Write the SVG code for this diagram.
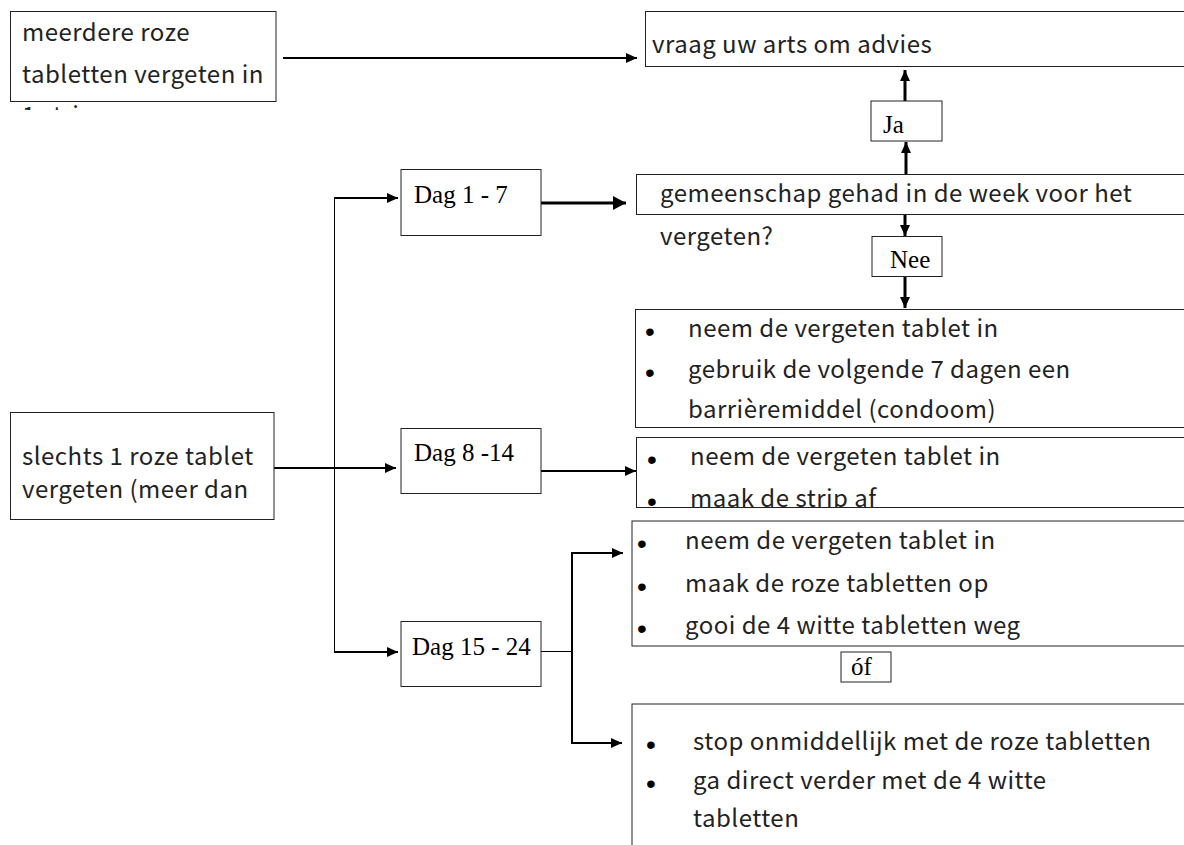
<svg xmlns="http://www.w3.org/2000/svg" width="1184" height="845" viewBox="0 0 1184 845">
<style>
.box{fill:#fff;stroke:#222;stroke-width:1}
.t{font-family:"Noto Sans CJK JP","Noto Sans",sans-serif;font-size:24px;letter-spacing:0.5px;fill:#222}
.s{font-family:"Liberation Serif",serif;font-size:25px;fill:#000}
.b{font-family:"Liberation Sans",sans-serif;font-size:28px;fill:#000}
.c{stroke:#000;stroke-width:2;fill:none}
.k{stroke:#000;stroke-width:3;fill:none}
.thin{stroke:#000;stroke-width:1;fill:none}
</style>
<defs>
<marker id="ah" markerUnits="userSpaceOnUse" markerWidth="12" markerHeight="10" refX="11" refY="5" orient="auto"><path d="M0,0 L11,5 L0,10 z" fill="#000"/></marker>
<marker id="ahb" markerUnits="userSpaceOnUse" markerWidth="14" markerHeight="14" refX="13" refY="7" orient="auto"><path d="M0,0 L13,7 L0,14 z" fill="#000"/></marker>
<clipPath id="clipA"><rect x="0" y="0" width="300" height="110"/></clipPath>
<clipPath id="clipD"><rect x="636" y="437" width="600" height="71"/></clipPath>
</defs>

<g id="connectors">
<line class="c" x1="283" y1="58" x2="637" y2="58" marker-end="url(#ah)"/>
<line class="k" x1="905" y1="101" x2="905" y2="70" marker-end="url(#ah)"/>
<line class="k" x1="906" y1="174" x2="906" y2="142" marker-end="url(#ah)"/>
<line class="k" x1="905" y1="214" x2="905" y2="236" marker-end="url(#ah)"/>
<line class="k" x1="905" y1="277" x2="905" y2="308" marker-end="url(#ah)"/>
<line class="c" x1="274" y1="468" x2="396" y2="468" marker-end="url(#ah)"/>
<line class="thin" x1="334.5" y1="198" x2="334.5" y2="652"/>
<line class="c" x1="334" y1="198" x2="398" y2="198" marker-end="url(#ah)"/>
<line class="c" x1="334" y1="652" x2="398" y2="652" marker-end="url(#ah)"/>
<line class="k" x1="541" y1="203" x2="626" y2="203" stroke-width="4" marker-end="url(#ahb)"/>
<line class="c" x1="541" y1="471" x2="636" y2="471" marker-end="url(#ah)"/>
<line class="thin" x1="541" y1="651.5" x2="572" y2="651.5"/>
<line class="c" x1="572" y1="552" x2="572" y2="743"/>
<line class="c" x1="571" y1="553" x2="623" y2="553" marker-end="url(#ah)"/>
<line class="c" x1="571" y1="743" x2="622" y2="743" marker-end="url(#ah)"/>
</g>

<g id="node-meerdere">
<rect class="box" x="10.5" y="11.5" width="265.5" height="90"/>
<text class="t" x="22" y="41">meerdere roze</text>
<text class="t" x="22" y="83">tabletten vergeten in</text>
<text class="t" x="22" y="124" clip-path="url(#clipA)">1 strip</text>
</g>

<g id="node-advies">
<rect class="box" x="645.5" y="11.5" width="560" height="55"/>
<text class="t" x="652" y="53">vraag uw arts om advies</text>
</g>

<g id="node-ja">
<rect class="box" x="871" y="101" width="71" height="40"/>
<text class="s" x="883" y="133">Ja</text>
</g>

<g id="node-gemeenschap">
<rect class="box" x="636.5" y="174.5" width="560" height="40"/>
<text class="t" x="660" y="202">gemeenschap gehad in de week voor het</text>
<text class="t" x="660" y="245">vergeten?</text>
</g>

<g id="node-nee">
<rect class="box" x="872" y="236.5" width="70" height="40"/>
<text class="s" x="890" y="268">Nee</text>
</g>

<g id="node-barriere">
<rect class="box" x="635.5" y="309.5" width="560" height="118"/>
<text class="b" x="645" y="341">•</text>
<text class="t" x="688" y="337">neem de vergeten tablet in</text>
<text class="b" x="645" y="382">•</text>
<text class="t" x="688" y="378">gebruik de volgende 7 dagen een</text>
<text class="t" x="688" y="418">barrièremiddel (condoom)</text>
</g>

<g id="node-strip">
<rect class="box" x="636.5" y="437.5" width="560" height="70"/>
<text class="b" x="647" y="469">•</text>
<text class="t" x="690" y="465">neem de vergeten tablet in</text>
<g clip-path="url(#clipD)">
<text class="b" x="647" y="511">•</text>
<text class="t" x="690" y="507">maak de strip af</text>
</g>
</g>

<g id="node-opmaken">
<rect class="box" x="632" y="521" width="560" height="125"/>
<text class="b" x="637" y="553">•</text>
<text class="t" x="685" y="549">neem de vergeten tablet in</text>
<text class="b" x="637" y="596">•</text>
<text class="t" x="685" y="592">maak de roze tabletten op</text>
<text class="b" x="637" y="638">•</text>
<text class="t" x="685" y="634">gooi de 4 witte tabletten weg</text>
</g>

<g id="node-of">
<rect class="box" x="841" y="652" width="50" height="30"/>
<text class="s" x="851" y="675">óf</text>
</g>

<g id="node-stop">
<rect class="box" x="632" y="704" width="560" height="200"/>
<text class="b" x="646" y="754">•</text>
<text class="t" x="693" y="750">stop onmiddellijk met de roze tabletten</text>
<text class="b" x="646" y="793">•</text>
<text class="t" x="693" y="789">ga direct verder met de 4 witte</text>
<text class="t" x="693" y="827">tabletten</text>
</g>

<g id="node-slechts">
<rect class="box" x="10.5" y="412.5" width="263.5" height="107"/>
<text class="t" x="22" y="465">slechts 1 roze tablet</text>
<text class="t" x="22" y="498">vergeten (meer dan</text>
</g>

<g id="node-dag1">
<rect class="box" x="401" y="169.5" width="140" height="66"/>
<text class="s" x="414" y="203">Dag 1 - 7</text>
</g>

<g id="node-dag8">
<rect class="box" x="401" y="428.5" width="140" height="65"/>
<text class="s" x="414" y="461">Dag 8 -14</text>
</g>

<g id="node-dag15">
<rect class="box" x="401" y="621.5" width="140" height="65"/>
<text class="s" x="412" y="655">Dag 15 - 24</text>
</g>
</svg>
